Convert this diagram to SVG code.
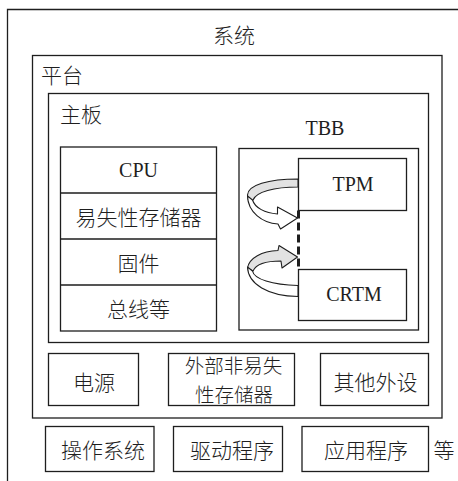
<svg xmlns="http://www.w3.org/2000/svg" width="458" height="481" viewBox="0 0 458 481">
<style>
.box{fill:none;stroke:#1e1e1e;stroke-width:1.3}
.zh{font-family:"Noto Sans CJK SC","Noto Sans",sans-serif;font-size:21px;font-weight:300;fill:#1e1e1e;text-anchor:middle;dominant-baseline:central}
.zh2{font-size:19.5px}
.en{font-family:"Liberation Serif","Times New Roman",serif;font-size:20px;fill:#1e1e1e;text-anchor:middle}
.back{fill:#e2e2e2;stroke:#1e1e1e;stroke-width:1.1;stroke-linejoin:round}
.front{fill:#fff;stroke:#1e1e1e;stroke-width:1.1;stroke-linejoin:round}
</style>
<rect width="458" height="481" fill="#fff"/>
<g id="system">
<path class="box" d="M7.5,481 V9.5 H458"/>
<text class="zh" x="234" y="33.5">系统</text>
</g>
<g id="platform">
<rect class="box" x="32.5" y="55.5" width="409.5" height="362.5"/>
<text class="zh" x="62" y="74">平台</text>
</g>
<g id="mainboard">
<rect class="box" x="48.5" y="93.5" width="380" height="249"/>
<text class="zh" x="81" y="112.5">主板</text>
</g>
<g id="mb-components">
<rect class="box" x="60.5" y="147" width="156" height="184"/>
<path class="box" d="M60.5,193 H216.5 M60.5,239 H216.5 M60.5,285 H216.5"/>
<text class="en" x="138.5" y="176.7">CPU</text>
<text class="zh" x="138.5" y="216">易失性存储器</text>
<text class="zh" x="138.5" y="262">固件</text>
<text class="zh" x="138.5" y="308">总线等</text>
</g>
<g id="tbb">
<text class="en" x="325" y="135">TBB</text>
<rect class="box" x="239" y="148.5" width="179.5" height="181.5"/>
</g>
<g id="tpm">
<rect class="box" x="298.5" y="158.5" width="108" height="52"/>
<text class="en" x="353" y="190.8">TPM</text>
</g>
<g id="crtm">
<rect class="box" x="298.5" y="269.5" width="108" height="51"/>
<text class="en" x="354" y="300.5">CRTM</text>
</g>
<g id="connectors">
<line x1="298.5" y1="210.5" x2="298.5" y2="269.5" stroke="#1e1e1e" stroke-width="3" stroke-dasharray="8 4"/>
<path class="back" d="M298,179 C268,179 248,185 247.5,195 C247.5,198 248,200 249,202 L253,200 C256,192 274,187 298,187 Z"/>
<path class="front" d="M247.5,196 C248,212 262,223 278,224 L280.5,229 L297.5,218 L277.5,207 L277.5,214 C265,213 255,208 252.5,200 Z"/>
<path class="back" d="M247.5,268 C249,258 262,251 278,250.5 L279,245.5 L297.5,257 L282,268 L281,261 C267,261 256,264 253,271 Z"/>
<path class="front" d="M247.5,267 C248,284 268,296 298,296.5 L298,285.5 C272,285 254,279 252.5,271 Z"/>
</g>
<g id="power">
<rect class="box" x="48.5" y="353.5" width="90" height="52"/>
<text class="zh" x="94" y="381">电源</text>
</g>
<g id="ext-storage">
<rect class="box" x="168.5" y="353.5" width="126" height="52"/>
<text class="zh zh2"><tspan x="233.5" y="364.3">外部非易失</tspan><tspan x="234" y="392.7">性存储器</tspan></text>
</g>
<g id="peripherals">
<rect class="box" x="320.5" y="353.5" width="108" height="52"/>
<text class="zh" x="375.5" y="381">其他外设</text>
</g>
<g id="os">
<rect class="box" x="45.5" y="426.5" width="108.5" height="45"/>
<text class="zh" x="103" y="449">操作系统</text>
</g>
<g id="drivers">
<rect class="box" x="173.5" y="426.5" width="109" height="45"/>
<text class="zh" x="232" y="449">驱动程序</text>
</g>
<g id="apps">
<rect class="box" x="302" y="426.5" width="126.5" height="45"/>
<text class="zh" x="366" y="449">应用程序</text>
</g>
<g id="etc">
<text class="zh" x="444" y="449">等</text>
</g>
</svg>
